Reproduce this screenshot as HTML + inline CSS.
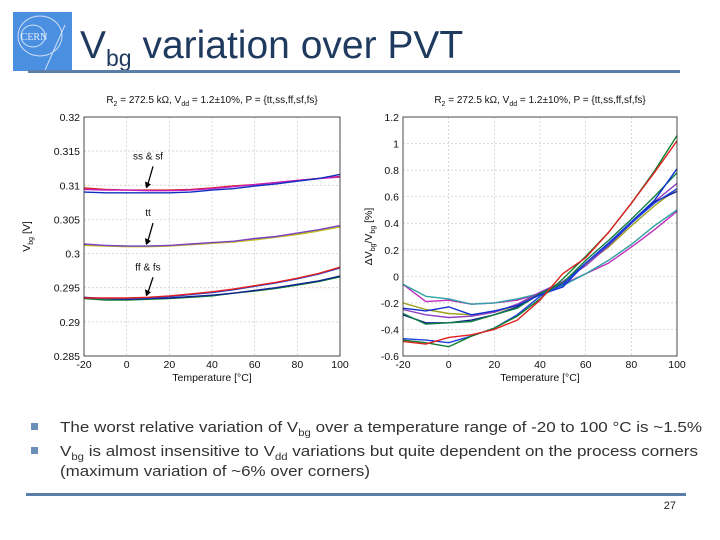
<!DOCTYPE html>
<html><head><meta charset="utf-8"><style>
html,body{margin:0;padding:0;background:#fff;}
svg{display:block;font-family:"Liberation Sans",sans-serif;}
</style></head><body>
<svg id="slide" width="720" height="540" viewBox="0 0 720 540">
  <g>
    <rect x="13" y="12" width="59" height="59" fill="#4a8fe0"/>
    <ellipse cx="40" cy="36" rx="22" ry="20" fill="none" stroke="#cfe0f5" stroke-width="1"/>
    <ellipse cx="33" cy="36" rx="12" ry="11" fill="none" stroke="#cfe0f5" stroke-width="1"/>
    <path d="M45 70 L65 25" stroke="#cfe0f5" stroke-width="1"/>
    <text x="34" y="40" font-size="10" fill="#e8f0fb" text-anchor="middle" font-family="Liberation Serif,serif">CERN</text>
  </g>
  <text x="80" y="58" font-size="39" fill="#1f3a5f">V<tspan font-size="23" dy="8">bg</tspan><tspan dy="-8"> variation over PVT</tspan></text>
  <rect x="28" y="70" width="652" height="3" fill="#5b7fa6"/>

  <g id="left"></g>
  <g id="right"></g>

  <g font-size="15" fill="#333">
    <rect x="31" y="423" width="7" height="7" fill="#6b8fb8"/>
    <text x="60" y="432" textLength="642" lengthAdjust="spacingAndGlyphs">The worst relative variation of V<tspan font-size="10" dy="4">bg</tspan><tspan dy="-4"> over a temperature range of -20 to 100 °C is ~1.5%</tspan></text>
    <rect x="31" y="447" width="7" height="7" fill="#6b8fb8"/>
    <text x="60" y="456" textLength="638" lengthAdjust="spacingAndGlyphs">V<tspan font-size="10" dy="4">bg</tspan><tspan dy="-4"> is almost insensitive to V</tspan><tspan font-size="10" dy="4">dd</tspan><tspan dy="-4"> variations but quite dependent on the process corners</tspan></text>
    <text x="60" y="476" textLength="310" lengthAdjust="spacingAndGlyphs">(maximum variation of ~6% over corners)</text>
  </g>
  <rect x="26" y="493" width="660" height="3" fill="#5b7fa6"/>
  <text x="676" y="509" font-size="11" fill="#222" text-anchor="end">27</text>
</svg>
<script>
const xs = [-20,-10,0,10,20,30,40,50,60,70,80,90,100];
const xTicks = [-20,0,20,40,60,80,100];
const leftTicks = [0.32,0.315,0.31,0.305,0.3,0.295,0.29,0.285];
const leftTickLabels = ["0.32","0.315","0.31","0.305","0.3","0.295","0.29","0.285"];
const rightTicks = [1.2,1,0.8,0.6,0.4,0.2,0,-0.2,-0.4,-0.6];
const rightTickLabels = ["1.2","1","0.8","0.6","0.4","0.2","0","-0.2","-0.4","-0.6"];

const L_ss_red  = [0.3096,0.3094,0.3093,0.3093,0.3093,0.3094,0.3096,0.3099,0.3101,0.3104,0.3107,0.3110,0.3113];
const L_ss_mag  = [0.3094,0.3093,0.3093,0.3092,0.3092,0.3093,0.3095,0.3098,0.3101,0.3104,0.3107,0.3110,0.3112];
const L_ss_blue = [0.3090,0.3089,0.3089,0.3089,0.3089,0.3090,0.3093,0.3095,0.3099,0.3102,0.3106,0.3110,0.3116];
const L_tt_a    = [0.3013,0.3012,0.3011,0.3011,0.3012,0.3013,0.3015,0.3018,0.3021,0.3025,0.3029,0.3034,0.3040];
const L_tt_b    = [0.3012,0.3011,0.3010,0.3010,0.3011,0.3013,0.3015,0.3017,0.3020,0.3024,0.3028,0.3033,0.3039];
const L_tt_c    = [0.3014,0.3012,0.3011,0.3011,0.3012,0.3014,0.3016,0.3018,0.3022,0.3025,0.3030,0.3035,0.3041];
const L_ff_red  = [0.2935,0.2935,0.2935,0.2936,0.2938,0.2941,0.2944,0.2948,0.2953,0.2958,0.2964,0.2971,0.2980];
const L_ff_blue = [0.2935,0.2934,0.2934,0.2935,0.2937,0.2940,0.2943,0.2947,0.2952,0.2957,0.2963,0.2970,0.2979];
const L_fs_grn  = [0.2934,0.2932,0.2932,0.2933,0.2934,0.2936,0.2938,0.2942,0.2945,0.2949,0.2954,0.2959,0.2966];
const L_fs_navy = [0.2936,0.2934,0.2933,0.2934,0.2935,0.2937,0.2939,0.2942,0.2946,0.2950,0.2955,0.2960,0.2967];

const R_red1  = [-0.49,-0.51,-0.46,-0.44,-0.40,-0.33,-0.18,0.02,0.14,0.33,0.55,0.78,1.02];
const R_grn1  = [-0.48,-0.50,-0.53,-0.45,-0.39,-0.30,-0.17,-0.02,0.15,0.33,0.55,0.79,1.06];
const R_blue1 = [-0.47,-0.48,-0.50,-0.45,-0.39,-0.29,-0.15,-0.06,0.10,0.24,0.40,0.55,0.66];
const R_mag1  = [-0.06,-0.19,-0.18,-0.21,-0.20,-0.18,-0.13,-0.06,0.02,0.10,0.22,0.35,0.49];
const R_cyan  = [-0.06,-0.15,-0.17,-0.21,-0.20,-0.17,-0.13,-0.07,0.02,0.12,0.24,0.38,0.50];
const R_blue2 = [-0.24,-0.26,-0.23,-0.29,-0.26,-0.22,-0.14,-0.08,0.10,0.25,0.41,0.57,0.81];
const R_grn2  = [-0.28,-0.36,-0.35,-0.34,-0.29,-0.24,-0.13,-0.05,0.12,0.27,0.43,0.60,0.78];
const R_navy  = [-0.29,-0.35,-0.35,-0.33,-0.29,-0.23,-0.13,-0.05,0.10,0.24,0.40,0.56,0.64];
const R_olive = [-0.20,-0.25,-0.28,-0.29,-0.27,-0.22,-0.13,-0.05,0.09,0.22,0.38,0.53,0.66];
const R_purp  = [-0.25,-0.29,-0.31,-0.30,-0.27,-0.21,-0.12,-0.04,0.08,0.23,0.40,0.56,0.70];

const NS = "http://www.w3.org/2000/svg";
function mk(parent, tag, attrs, txt){
  const e = document.createElementNS(NS, tag);
  for (const k in attrs) e.setAttribute(k, attrs[k]);
  if (txt !== undefined) e.textContent = txt;
  parent.appendChild(e);
  return e;
}
function chart(g, box, ymin, ymax, yTicks, yLabels, series, ylabelParts){
  const sx = v => box.x0 + (v - (-20)) / 120 * (box.x1 - box.x0);
  const sy = v => box.y1 - (v - ymin) / (ymax - ymin) * (box.y1 - box.y0);
  const bg = mk(g, 'rect', {x:box.x0, y:box.y0, width:box.x1-box.x0, height:box.y1-box.y0, fill:'#fff'});
  
  
  xTicks.forEach(t => {
    const gl = mk(g, 'line', {x1:sx(t), x2:sx(t), y1:box.y0, y2:box.y1, stroke:'#c8c8c8', 'stroke-width':0.7, 'stroke-dasharray':'2,2'});
    
    
    const tl = mk(g, 'text', {x:sx(t), y:box.y1+12, 'font-size':10.5, 'text-anchor':'middle', fill:'#111'}, String(t));
    
    
  });
  yTicks.forEach((t, i) => {
    const gl = mk(g, 'line', {x1:box.x0, x2:box.x1, y1:sy(t), y2:sy(t), stroke:'#c8c8c8', 'stroke-width':0.7, 'stroke-dasharray':'2,2'});
    
    
    const tl = mk(g, 'text', {x:box.x0-4, y:sy(t)+4, 'font-size':10.5, 'text-anchor':'end', fill:'#111'}, yLabels[i]);
    
    
  });
  series.forEach(s => {
    const d = s.v.map((v, i) => (i ? 'L' : 'M') + sx(xs[i]).toFixed(1) + ' ' + sy(v).toFixed(1)).join(' ');
    const p = mk(g, 'path', {d:d, fill:'none', stroke:s.c, 'stroke-width':1.4, 'stroke-linejoin':'round'});
    
    
  });
  const fr = mk(g, 'rect', {x:box.x0, y:box.y0, width:box.x1-box.x0, height:box.y1-box.y0, fill:'none', stroke:'#222', 'stroke-width':0.8});
  
  
  const xt = mk(g, 'text', {x:(box.x0+box.x1)/2, y:box.y1+25, 'font-size':10.5, 'text-anchor':'middle', fill:'#111'}, 'Temperature [°C]');
  
  
  const tt = mk(g, 'text', {x:(box.x0+box.x1)/2, y:box.y0-14, 'font-size':10, 'text-anchor':'middle', fill:'#111'});
  tt.innerHTML = 'R<tspan font-size="7" dy="3">2</tspan><tspan dy="-3"> = 272.5 kΩ, V</tspan><tspan font-size="7" dy="3">dd</tspan><tspan dy="-3"> = 1.2±10%, P = {tt,ss,ff,sf,fs}</tspan>';
  
  
  const yt = mk(g, 'text', {transform:'translate('+ylabelParts.x+','+((box.y0+box.y1)/2)+') rotate(-90)', 'font-size':10.5, 'text-anchor':'middle', fill:'#111'});
  yt.innerHTML = ylabelParts.html;
  
  
  return {sx, sy};
}
const left = document.getElementById('left');
const lc = chart(left, {x0:84, x1:340, y0:117, y1:356}, 0.285, 0.32, leftTicks, leftTickLabels, [
  {v:L_ss_red,c:'#e02020'},{v:L_ss_mag,c:'#c020c0'},{v:L_ss_blue,c:'#1030c0'},
  {v:L_tt_a,c:'#30c0c0'},{v:L_tt_b,c:'#c0c020'},{v:L_tt_c,c:'#8040c0'},
  {v:L_fs_grn,c:'#108030'},{v:L_fs_navy,c:'#102090'},{v:L_ff_blue,c:'#2040d0'},{v:L_ff_red,c:'#e02020'}
], {x:30, html:'V<tspan font-size="7" dy="3">bg</tspan><tspan dy="-3"> [V]</tspan>'});
const annots = [{t:'ss & sf', x:10, y:0.3094, dy:-25},{t:'tt', x:10, y:0.3011, dy:-25},{t:'ff & fs', x:10, y:0.2936, dy:-22}];
annots.forEach(a => {
  const px = lc.sx(a.x), py = lc.sy(a.y);
  const tx = mk(left, 'text', {x:px, y:py+a.dy-5, 'font-size':10, 'text-anchor':'middle', fill:'#111'}, a.t);
  
  
  const ar = mk(left, 'path', {d:'M'+(px+5)+' '+(py+a.dy+2)+' L'+(px-1)+' '+(py-2), stroke:'#000', 'stroke-width':1.3, fill:'none'});
  
  
  const ah = mk(left, 'path', {d:'M'+(px-2)+' '+(py-1)+' l-1 -7 l6 3 z', fill:'#000'});
  
  
});
const right = document.getElementById('right');
chart(right, {x0:403, x1:677, y0:117, y1:356}, -0.6, 1.2, rightTicks, rightTickLabels, [
  {v:R_mag1,c:'#c030c0'},{v:R_cyan,c:'#30a0a0'},{v:R_olive,c:'#a0a020'},{v:R_purp,c:'#9040c0'},
  {v:R_navy,c:'#102090'},{v:R_grn2,c:'#108040'},{v:R_blue2,c:'#1030d0'},
  {v:R_blue1,c:'#2040e0'},{v:R_grn1,c:'#108030'},{v:R_red1,c:'#e02020'}
], {x:372, html:'ΔV<tspan font-size="7" dy="3">bg</tspan><tspan dy="-3">/V</tspan><tspan font-size="7" dy="3">bg</tspan><tspan dy="-3"> [%]</tspan>'});
</script>
</body></html>
